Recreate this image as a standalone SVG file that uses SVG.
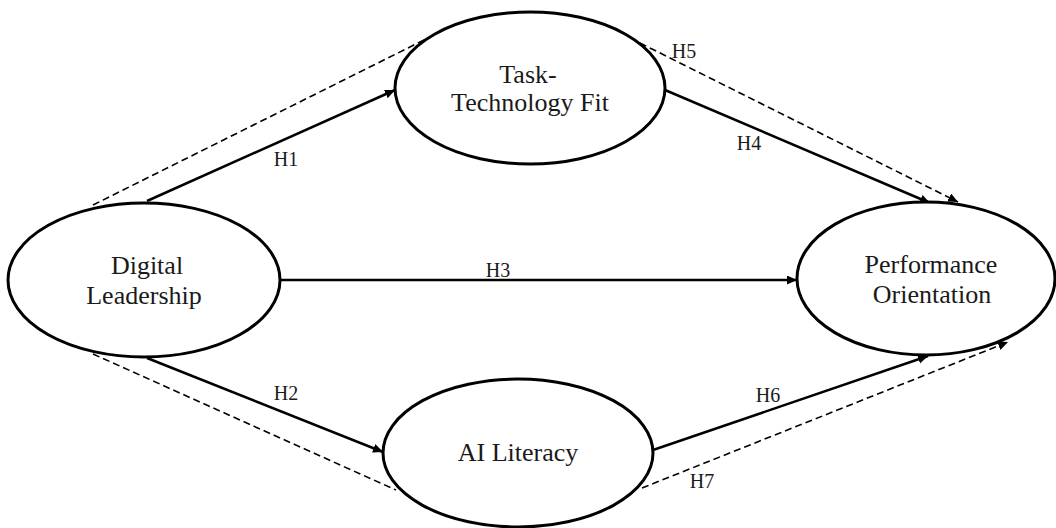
<svg xmlns="http://www.w3.org/2000/svg" width="1056" height="528" viewBox="0 0 1056 528">
<style>
.node{fill:#fff;stroke:#000;stroke-width:3}
.lbl{font-family:"Liberation Serif","Times New Roman",serif;font-size:26px;fill:#1a1a1a;text-anchor:middle}
.h{font-family:"Liberation Serif","Times New Roman",serif;font-size:20px;fill:#1a1a1a;text-anchor:middle}
.solid{fill:none;stroke:#000;stroke-width:2.5}
.dash{fill:none;stroke:#000;stroke-width:1.6;stroke-dasharray:7 4}
</style>
<defs>
<marker id="arr" markerUnits="userSpaceOnUse" markerWidth="12" markerHeight="10" refX="10" refY="4.5" orient="auto">
<path d="M0,0 L10,4.5 L0,9 z" fill="#000"/>
</marker>
</defs>
<rect width="1056" height="528" fill="#fff"/>
<g id="connectors">
<line class="dash" x1="93" y1="205" x2="428" y2="38"/>
<line class="dash" x1="640" y1="43" x2="958" y2="202" marker-end="url(#arr)"/>
<line class="dash" x1="93" y1="354" x2="396" y2="490"/>
<line class="dash" x1="642" y1="488" x2="1008" y2="342" marker-end="url(#arr)"/>
<line class="solid" x1="147" y1="201" x2="395" y2="90" marker-end="url(#arr)"/>
<line class="solid" x1="147" y1="358" x2="383" y2="452" marker-end="url(#arr)"/>
<line class="solid" x1="280" y1="280" x2="797" y2="280" marker-end="url(#arr)"/>
<line class="solid" x1="665" y1="90" x2="930" y2="203" marker-end="url(#arr)"/>
<line class="solid" x1="653" y1="450" x2="928" y2="356" marker-end="url(#arr)"/>
</g>
<g id="node-dl">
<ellipse class="node" cx="144" cy="280" rx="136" ry="77"/>
<text class="lbl" x="147" y="274">Digital</text>
<text class="lbl" x="144" y="304">Leadership</text>
</g>
<g id="node-ttf">
<ellipse class="node" cx="530" cy="88" rx="135" ry="76"/>
<text class="lbl" x="528" y="83">Task-</text>
<text class="lbl" x="530" y="111">Technology Fit</text>
</g>
<g id="node-ail">
<ellipse class="node" cx="518" cy="453" rx="135" ry="74"/>
<text class="lbl" x="518" y="461">AI Literacy</text>
</g>
<g id="node-po">
<ellipse class="node" cx="926" cy="278.5" rx="129" ry="76.5"/>
<text class="lbl" x="931" y="273">Performance</text>
<text class="lbl" x="932" y="303">Orientation</text>
</g>
<g id="labels">
<text class="h" x="286" y="166">H1</text>
<text class="h" x="286" y="400">H2</text>
<text class="h" x="498" y="277">H3</text>
<text class="h" x="749" y="150">H4</text>
<text class="h" x="684" y="58">H5</text>
<text class="h" x="768" y="402">H6</text>
<text class="h" x="702" y="488">H7</text>
</g>
</svg>
